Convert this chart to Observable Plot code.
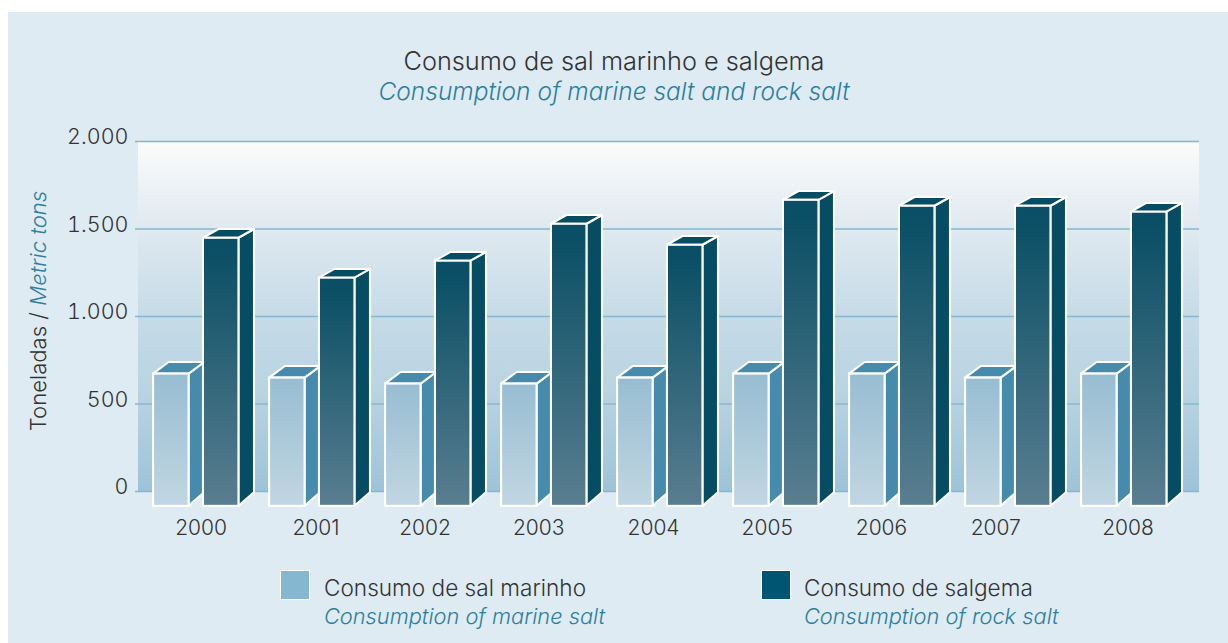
<!DOCTYPE html>
<html lang="pt">
<head>
<meta charset="utf-8">
<script src="https://cdn.jsdelivr.net/npm/d3@7"></script>
<script src="https://cdn.jsdelivr.net/npm/@observablehq/plot@0.6"></script>
<style>
html,body{margin:0;padding:0;background:#fff;}
body{width:1228px;height:643px;overflow:hidden;position:relative;font-family:"Inter","Liberation Sans",sans-serif;font-weight:300;}
#panel{position:absolute;left:8px;top:12px;width:1220px;height:631px;background:#deebf3;}
.t{position:absolute;white-space:nowrap;color:#333;font-size:25.3px;line-height:30px;}
.en{color:#2e7f9d;font-style:italic;}
#chart{position:absolute;left:0;top:108px;}
#title{left:0;width:1212px;top:34px;text-align:center;}
#title .en{font-size:24.5px;}
#ylabel{left:30px;top:299px;transform:translate(-50%,-50%) rotate(-90deg);font-size:22.1px;}
.leg{font-size:22.6px;line-height:28px;}
.leg .en{font-size:21.8px;}
.sw{position:absolute;width:28px;height:28px;border:1px solid #fff;}
</style>
</head>
<body>
<div id="panel">
  <div class="t" id="title">Consumo de sal marinho e salgema<br><span class="en">Consumption of marine salt and rock salt</span></div>
  <div class="t" id="ylabel">Toneladas / <span class="en">Metric tons</span></div>
  <div id="chart"></div>
  <div class="sw" style="left:272px;top:558px;background:#85b7d0"></div>
  <div class="t leg" style="left:316px;top:562px">Consumo de sal marinho<br><span class="en">Consumption of marine salt</span></div>
  <div class="sw" style="left:753px;top:558px;background:#005672"></div>
  <div class="t leg" style="left:796px;top:562px">Consumo de salgema<br><span class="en">Consumption of rock salt</span></div>
</div>
<script>
const years = [2000, 2001, 2002, 2003, 2004, 2005, 2006, 2007, 2008];
const marineSalt = [737, 714, 680, 680, 714, 737, 737, 714, 737];
const rockSalt = [1497, 1269, 1366, 1577, 1457, 1714, 1680, 1680, 1646];
const yTicks = [0, 500, 1000, 1500, 2000];

// Geometry of the pseudo-3D boxes, in scale units (x: one unit per year group, y: tons)
const barW = 0.306, depthX = 0.134, floorDepth = 78, floor = -85;
const labelNudge = [0.04, 0.03, -0.03, -0.05, -0.06, -0.08, -0.095, -0.11, 0.03];
const sw = 2.1;

const boxes = (values, start, key, topDepth) => values.map((v, i) => ({
  id: key + i, left: i + start, right: i + start + barW, top: v - topDepth, back: v
}));
const salt = boxes(marineSalt, -0.37, "s", 66);
const rock = boxes(rockSalt, 0.06, "r", 50);

const sidePts = bs => bs.flatMap(b => [
  {id: b.id, x: b.right, lo: floor, hi: b.top},
  {id: b.id, x: b.right + depthX, lo: floor + floorDepth, hi: b.back}
]);
const topPts = bs => bs.flatMap(b => [
  {id: b.id, x: b.left, lo: b.top, hi: b.top},
  {id: b.id, x: b.left + depthX, lo: b.top, hi: b.back},
  {id: b.id, x: b.right, lo: b.top, hi: b.back},
  {id: b.id, x: b.right + depthX, lo: b.back, hi: b.back}
]);

const box = (bs, sideColor, topColor, grad) => [
  Plot.areaY(sidePts(bs), {x: "x", y1: "lo", y2: "hi", z: "id", fill: sideColor, stroke: "#fff", strokeWidth: sw}),
  Plot.areaY(topPts(bs), {x: "x", y1: "lo", y2: "hi", z: "id", fill: topColor, stroke: "#fff", strokeWidth: sw}),
  Plot.rect(bs, {x1: "left", x2: "right", y1: floor, y2: "top", fill: `url(#${grad})`, stroke: "#fff", strokeWidth: sw})
];

function gradient(id, stops) {
  const g = d3.create("svg:linearGradient").attr("id", id)
    .attr("x1", 0).attr("y1", 0).attr("x2", 0).attr("y2", 1);
  stops.forEach(([o, c]) => g.append("stop").attr("offset", o).attr("stop-color", c));
  return g.node();
}
const defs = () => {
  const d = d3.create("svg:defs");
  d.append(() => gradient("bg", [[0, "#fbfcfb"], [0.25, "#dfe9f0"], [0.5, "#c6dbe7"], [0.75, "#b6d2e1"], [1, "#9dc3d8"]]));
  d.append(() => gradient("gs", [[0, "#97bdd2"], [1, "#c2d6e2"]]));
  d.append(() => gradient("gr", [[0, "#0a4f65"], [0.05, "#0a4f65"], [1, "#5a7e90"]]));
  return d.node();
};

const chart = Plot.plot({
  width: 1220, height: 430,
  marginLeft: 121, marginTop: 21, marginBottom: 59, marginRight: 21,
  x: {domain: [0, 8], range: [188, 1116], axis: null},
  y: {domain: [0, 2000], range: [371, 21], axis: null},
  style: {background: "transparent", overflow: "visible"},
  marks: [
    defs,
    Plot.rect([0], {x1: () => -0.5, x2: () => 8.647, y1: () => 0, y2: () => 2000, fill: "url(#bg)"}),
    Plot.ruleY(yTicks, {x1: () => -0.526, x2: () => 8.647, stroke: "#85b7cf", strokeWidth: 1.4}),
    Plot.axisY({
      ticks: yTicks, anchor: "left", tickSize: 0, tickPadding: 1, label: null,
      tickFormat: d => d3.format(",")(d).replace(",", "."),
      fontSize: 21.5, fill: "#333", fontFamily: "Inter", fontWeight: 300, dy: -4
    }),
    ...box(salt, "#468bab", "#468bab", "gs"),
    ...box(rock, "#064c62", "#064c62", "gr"),
    Plot.text(years, {
      x: (d, i) => i + labelNudge[i], y: () => -208, text: d => String(d),
      fontSize: 21, fill: "#333", fontFamily: "Inter", fontWeight: 300
    })
  ]
});
document.getElementById("chart").append(chart);
</script>
</body>
</html>
